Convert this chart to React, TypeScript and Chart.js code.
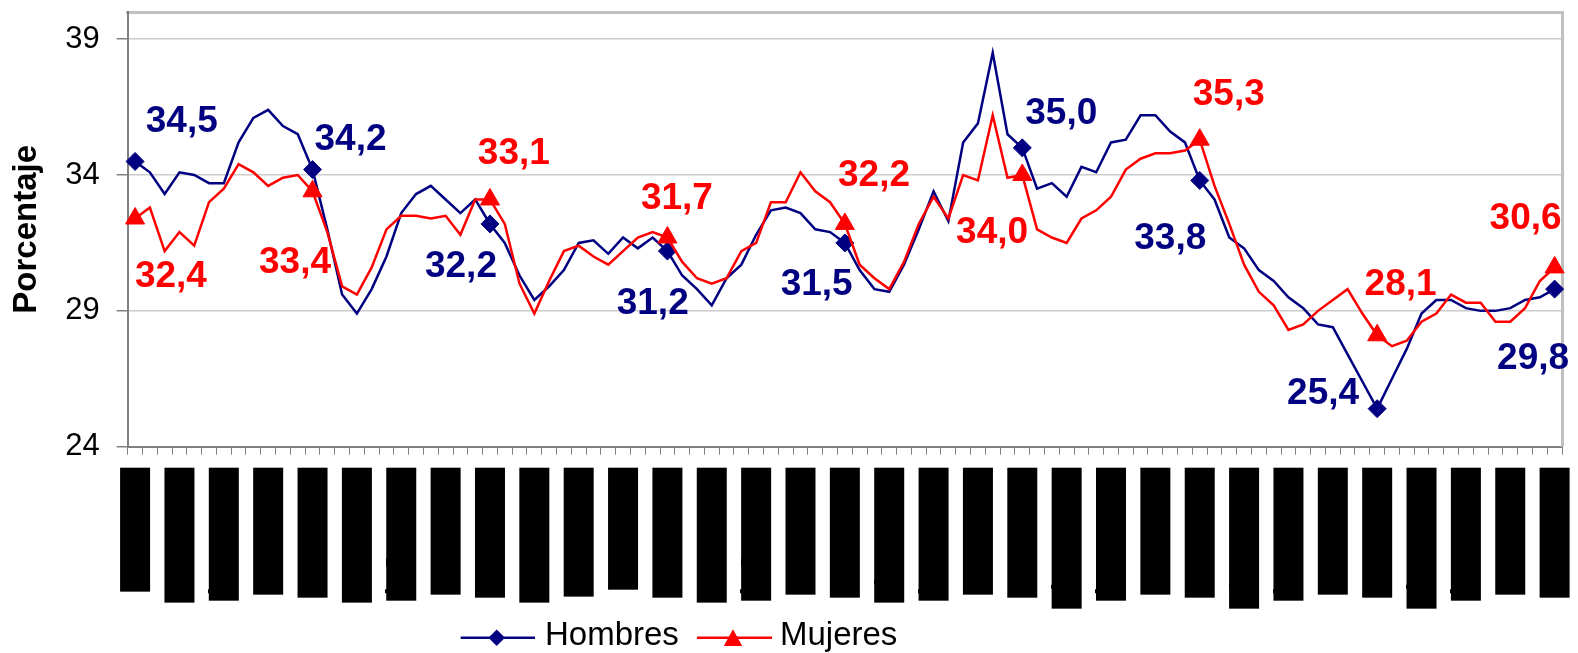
import { useEffect, useRef } from "react";
import { Chart, registerables } from "chart.js";

Chart.register(...registerables);

// ---------- data ----------
const MONTHS = ["ene", "feb", "mar", "abr", "may", "jun", "jul", "ago", "sep", "oct", "nov", "dic"];
const YEARS = [2000, 2001, 2002, 2003, 2004, 2005, 2006, 2007, 2008];
const CATEGORIES: string[] = YEARS.flatMap((y) => MONTHS.map((m) => `${m}-${y}`)).slice(0, 97);

const HOMBRES = [
  34.5, 34.1, 33.3, 34.1, 34.0, 33.7, 33.7, 35.2, 36.1, 36.4, 35.8, 35.5,
  34.2, 32.0, 29.6, 28.9, 29.8, 31.0, 32.6, 33.3, 33.6, 33.1, 32.6, 33.1,
  32.2, 31.5, 30.3, 29.4, 29.9, 30.5, 31.5, 31.6, 31.1, 31.7, 31.3, 31.7,
  31.2, 30.3, 29.8, 29.2, 30.2, 30.7, 31.8, 32.7, 32.8, 32.6, 32.0, 31.9,
  31.5, 30.5, 29.8, 29.7, 30.7, 32.0, 33.4, 32.3, 35.2, 35.9, 38.5, 35.5,
  35.0, 33.5, 33.7, 33.2, 34.3, 34.1, 35.2, 35.3, 36.2, 36.2, 35.6, 35.2,
  33.8, 33.1, 31.7, 31.3, 30.5, 30.1, 29.5, 29.1, 28.5, 28.4, 27.4, 26.4,
  25.4, 26.5, 27.6, 28.9, 29.4, 29.4, 29.1, 29.0, 29.0, 29.1, 29.4, 29.5,
  29.8,
];

const MUJERES = [
  32.4, 32.8, 31.2, 31.9, 31.4, 33.0, 33.5, 34.4, 34.1, 33.6, 33.9, 34.0,
  33.4, 31.9, 29.9, 29.6, 30.6, 32.0, 32.5, 32.5, 32.4, 32.5, 31.8, 33.1,
  33.1, 32.2, 30.0, 28.9, 30.1, 31.2, 31.4, 31.0, 30.7, 31.2, 31.7, 31.9,
  31.7, 30.8, 30.2, 30.0, 30.2, 31.2, 31.5, 33.0, 33.0, 34.1, 33.4, 33.0,
  32.2, 30.7, 30.2, 29.8, 30.8, 32.2, 33.2, 32.4, 34.0, 33.8, 36.2, 33.9,
  34.0, 32.0, 31.7, 31.5, 32.4, 32.7, 33.2, 34.2, 34.6, 34.8, 34.8, 34.9,
  35.3, 33.6, 32.2, 30.7, 29.7, 29.2, 28.3, 28.5, 29.0, 29.4, 29.8, 28.9,
  28.1, 27.7, 27.9, 28.6, 28.9, 29.6, 29.3, 29.3, 28.6, 28.6, 29.1, 30.1,
  30.6,
];

const Y_TICKS = [24, 29, 34, 39];
const MARKER_STEP = 12; // a marker + value label every 12 months
const LABEL_STEP = 3; // an x label every 3 months

// ---------- styles ----------
const NAVY = "#000080";
const RED = "#FF0000";
const SANS = '"Liberation Sans", Arial, sans-serif';
const MONO = '"DejaVu Sans Mono"';

// length (px) of each black x-label block
const BAR_LEN = [
  124, 135, 133, 127, 130, 135, 133, 127, 130, 135, 129, 122,
  130, 135, 133, 127, 130, 135, 133, 127, 130, 141, 133, 127,
  130, 141, 133, 127, 130, 141, 133, 127, 130,
];

// value-label offsets (text centre relative to point)
const OFFSETS_H: [number, number][] = [
  [46.7, -42.5], [38, -33], [-29, 40], [-14.7, 50], [-28.2, 39.2],
  [39, -37], [-29.5, 55.2], [-54.1, -18.3], [-21.5, 66.6],
];
const OFFSETS_M: [number, number][] = [
  [35.8, 55.6], [-17.5, 68.8], [23.9, -48.7], [9.5, -41.3], [29.2, -51.6],
  [-30.2, 55.2], [29, -47.7], [23.4, -54], [-29, -51.5],
];
const LABEL_OFFSETS = [OFFSETS_H, OFFSETS_M];

let measureCtx: CanvasRenderingContext2D | null = null;
function widthAt100(text: string): number {
  if (!measureCtx) {
    measureCtx = document.createElement("canvas").getContext("2d");
  }
  if (!measureCtx) return 0;
  measureCtx.font = `normal bold 100px ${MONO}`;
  return measureCtx.measureText(text).width;
}

function xTickFont(c: any) {
  const i = c.index ?? 0;
  const base = { family: MONO, weight: "bold", lineHeight: "30px" };
  if (i % LABEL_STEP !== 0) return { ...base, size: 24 };
  const k = Math.floor(i / LABEL_STEP);
  const w = widthAt100(CATEGORIES[i] || "");
  const size = w > 0 ? ((BAR_LEN[k] ?? 130) * 100) / w : 24;
  return { ...base, size };
}

const valueLabels = {
  id: "valueLabels",
  afterDatasetsDraw(chart: any) {
    const ctx = chart.ctx as CanvasRenderingContext2D;
    const size = 37;
    chart.data.datasets.forEach((ds: any, di: number) => {
      const meta = chart.getDatasetMeta(di);
      const offs = LABEL_OFFSETS[di];
      ctx.save();
      ctx.font = `bold ${size}px ${SANS}`;
      ctx.fillStyle = ds.borderColor;
      ctx.textAlign = "center";
      ctx.textBaseline = "alphabetic";
      let k = 0;
      meta.data.forEach((pt: any, i: number) => {
        if (i % MARKER_STEP !== 0) return;
        const off = offs[k++];
        if (!off) return;
        const v = ds.data[i] as number;
        ctx.fillText(v.toFixed(1).replace(".", ","), pt.x + off[0], pt.y + off[1] + size * 0.358);
      });
      ctx.restore();
    });
  },
};

export default function App() {
  const canvasRef = useRef<HTMLCanvasElement>(null);

  useEffect(() => {
    if (!canvasRef.current) return;
    const chart = new Chart(canvasRef.current, {
      type: "line",
      data: {
        labels: CATEGORIES,
        datasets: [
          {
            label: "Hombres",
            data: HOMBRES,
            borderColor: NAVY,
            backgroundColor: NAVY,
            borderWidth: 2.5,
            tension: 0,
            pointStyle: "rectRot",
            pointRadius: (c: any) => (c.dataIndex % MARKER_STEP === 0 ? 9 : 0),
            pointHoverRadius: (c: any) => (c.dataIndex % MARKER_STEP === 0 ? 9 : 0),
            pointBackgroundColor: NAVY,
            pointBorderColor: NAVY,
            pointBorderWidth: 1,
            order: 1,
          } as any,
          {
            label: "Mujeres",
            data: MUJERES,
            borderColor: RED,
            backgroundColor: RED,
            borderWidth: 2.5,
            tension: 0,
            pointStyle: "triangle",
            pointRadius: (c: any) => (c.dataIndex % MARKER_STEP === 0 ? 11 : 0),
            pointHoverRadius: (c: any) => (c.dataIndex % MARKER_STEP === 0 ? 11 : 0),
            pointBackgroundColor: RED,
            pointBorderColor: RED,
            pointBorderWidth: 1,
            order: 0,
          } as any,
        ],
      },
      options: {
        animation: false,
        responsive: true,
        maintainAspectRatio: false,
        events: [],
        layout: { padding: { top: 7.5, right: 16, bottom: 0, left: 0 } },
        plugins: {
          legend: { display: false },
          tooltip: { enabled: false },
        },
        scales: {
          x: {
            type: "category",
            offset: true,
            grid: {
              offset: true,
              drawOnChartArea: false,
              drawTicks: true,
              tickLength: 8,
              tickColor: "#808080",
              color: "#808080",
              lineWidth: 1,
            },
            border: { display: true, color: "#808080", width: 2 },
            ticks: {
              autoSkip: false,
              minRotation: 90,
              maxRotation: 90,
              padding: 13,
              labelOffset: -15,
              color: "#000000",
              font: xTickFont,
              callback: (_v: any, i: number) => (i % LABEL_STEP === 0 ? CATEGORIES[i] : ""),
              showLabelBackdrop: (c: any) => c.index % LABEL_STEP === 0,
              backdropColor: "#000000",
              backdropPadding: 0,
            } as any,
            afterFit: (scale: any) => {
              scale.height = 653 - 446.7;
              scale.paddingLeft = 0;
              scale.paddingRight = 0;
            },
          },
          x2: {
            type: "category",
            position: "top",
            grid: { display: false, drawTicks: false },
            ticks: { display: false },
            border: { display: true, color: "#c0c0c0", width: 3 },
          },
          y: {
            type: "linear",
            min: 24,
            max: 40,
            afterBuildTicks: (scale: any) => {
              scale.ticks = Y_TICKS.map((v) => ({ value: v }));
            },
            afterFit: (scale: any) => {
              scale.width = 127.7;
              scale.paddingTop = 0;
              scale.paddingBottom = 0;
            },
            grid: {
              color: (c: any) => (c.tick && c.tick.value === Y_TICKS[0] ? "rgba(0,0,0,0)" : "#cccccc"),
              lineWidth: 1.5,
              drawTicks: true,
              tickLength: 11,
              tickColor: "#808080",
              tickWidth: 1.5,
            } as any,
            border: { display: true, color: "#808080", width: 2 },
            ticks: {
              color: "#000000",
              padding: 17,
              font: { family: SANS, size: 31 },
            },
            title: {
              display: true,
              text: "Porcentaje",
              color: "#000000",
              font: { family: SANS, size: 33, weight: "bold" },
              padding: { top: 7, bottom: 0 },
            },
          },
          y2: {
            type: "linear",
            position: "right",
            grid: { display: false, drawTicks: false },
            ticks: { display: false },
            border: { display: true, color: "#c0c0c0", width: 3 },
          },
        } as any,
      },
      plugins: [valueLabels as any],
    });
    return () => chart.destroy();
  }, []);

  return (
    <div
      style={{
        position: "absolute",
        left: 0,
        top: 0,
        width: 1578,
        height: 653,
        background: "#ffffff",
        overflow: "hidden",
      }}
    >
      <canvas ref={canvasRef} />
      <svg
        style={{ position: "absolute", left: 440, top: 610 }}
        width={480}
        height={43}
        viewBox="0 0 480 43"
      >
        <line x1={20.7} y1={27.7} x2={95} y2={27.7} stroke={NAVY} strokeWidth={2.5} />
        <polygon points="56.7,19.4 65,27.7 56.7,36 48.4,27.7" fill={NAVY} />
        <text x={105} y={35} fontFamily={SANS} fontSize={33} fill="#000000">
          Hombres
        </text>
        <line x1={257} y1={27.7} x2={332} y2={27.7} stroke={RED} strokeWidth={2.5} />
        <polygon points="293,19.3 302.2,36 283.8,36" fill={RED} />
        <text x={340} y={35} fontFamily={SANS} fontSize={33} fill="#000000">
          Mujeres
        </text>
      </svg>
    </div>
  );
}
